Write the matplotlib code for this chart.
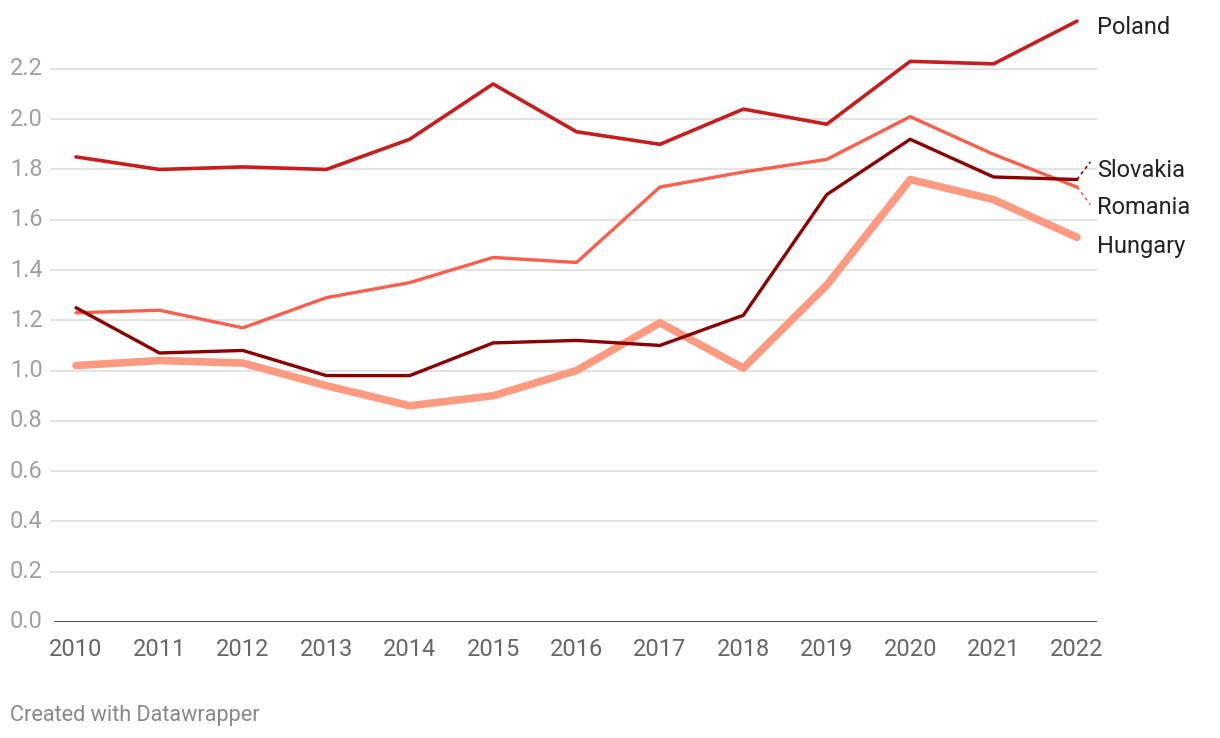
import matplotlib
matplotlib.use("Agg")
import matplotlib.pyplot as plt
from matplotlib.transforms import blended_transform_factory

years = list(range(2010, 2023))
poland = [1.85, 1.80, 1.81, 1.80, 1.92, 2.14, 1.95, 1.90, 2.04, 1.98, 2.23, 2.22, 2.39]
romania = [1.23, 1.24, 1.17, 1.29, 1.35, 1.45, 1.43, 1.73, 1.79, 1.84, 2.01, 1.86, 1.73]
slovakia = [1.25, 1.07, 1.08, 0.98, 0.98, 1.11, 1.12, 1.10, 1.22, 1.70, 1.92, 1.77, 1.76]
hungary = [1.02, 1.04, 1.03, 0.94, 0.86, 0.90, 1.00, 1.19, 1.01, 1.34, 1.76, 1.68, 1.53]
yticks = [0.0, 0.2, 0.4, 0.6, 0.8, 1.0, 1.2, 1.4, 1.6, 1.8, 2.0, 2.2]

plt.rcParams['font.family'] = ['Roboto', 'DejaVu Sans']

W, H = 1220, 738
fig = plt.figure(figsize=(W / 100, H / 100), dpi=100)
left, right, top, bottom = 50, 1097, 18.6, 622
ax = fig.add_axes([left / W, 1 - bottom / H, (right - left) / W, (bottom - top) / H])
ax.set_xlim(2010 - 26 / 83.4, 2022 + 20 / 83.4)
ax.set_ylim(0, 2.4)
for s in ax.spines.values():
    s.set_visible(False)
ax.set_yticks([])
ax.set_xticks(years)
ax.set_xticklabels([str(y) for y in years], fontsize=17, color='#666666')
ax.tick_params(axis='x', length=0, pad=11.5)

for t in yticks[1:]:
    ax.axhline(t, color='#e0e0e0', lw=1.3, zorder=0)
ax.axhline(0, color='#1a1a1a', lw=1.8, zorder=1, xmin=5 / (right - left))

tr = blended_transform_factory(fig.transFigure, ax.transData)
for t in yticks:
    ax.text(10 / W, t, f"{t:.1f}", transform=tr, ha='left', va='center',
            fontsize=17, color='#a0a0a0')

c_pol, c_rom, c_slo, c_hun = '#c71e1d', '#fd5f4c', '#8b0000', '#fe9a80'
ax.plot(years, hungary, color=c_hun, lw=5.5, solid_capstyle='round', solid_joinstyle='round', zorder=2)
ax.plot(years, romania, color=c_rom, lw=2.4, solid_capstyle='round', zorder=3)
ax.plot(years, slovakia, color=c_slo, lw=2.4, solid_capstyle='round', zorder=4)
ax.plot(years, poland, color=c_pol, lw=2.6, solid_capstyle='round', zorder=5)

lx = 2022 + 20 / 83.4
lab_kw = dict(fontsize=17, color='#222222', va='center', ha='left')
ax.text(lx, 2.365, 'Poland', **lab_kw)
ax.text(lx, 1.797, 'Slovakia', **lab_kw)
ax.text(lx, 1.647, 'Romania', **lab_kw)
ax.text(lx, 1.492, 'Hungary', **lab_kw)
ax.plot([2022, 2022.16], [slovakia[-1], 1.83], color=c_slo, lw=1.2, ls=(0, (2, 2)), clip_on=False)
ax.plot([2022, 2022.16], [romania[-1], 1.66], color=c_rom, lw=1.2, ls=(0, (2, 2)), clip_on=False)

fig.text(10 / W, 1 - 715 / H, 'Created with Datawrapper', fontsize=15.6, color='#888888',
         ha='left', va='center')

fig.savefig('out.png', dpi=100)
